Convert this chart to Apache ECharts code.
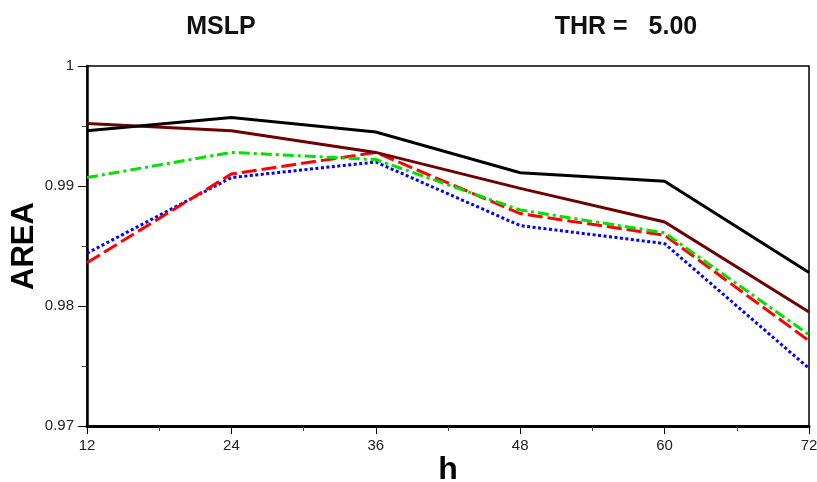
<!DOCTYPE html>
<html>
<head>
<meta charset="utf-8">
<script src="https://cdn.jsdelivr.net/npm/echarts@6/dist/echarts.min.js"></script>
<style>
html,body{margin:0;padding:0;background:#fff;}
#chart{width:817px;height:482px;}
</style>
</head>
<body>
<div id="chart"></div>
<script>
const hours = [12, 24, 36, 48, 60, 72];
const blackSeries = [0.9946, 0.9957, 0.9945, 0.9911, 0.9904, 0.9828];
const brownSeries = [0.9952, 0.9946, 0.9928, 0.9898, 0.9870, 0.9795];
const greenSeries = [0.9907, 0.9928, 0.9922, 0.9880, 0.9861, 0.9776];
const redSeries   = [0.9836, 0.9910, 0.9928, 0.9877, 0.9859, 0.9771];
const blueSeries  = [0.9844, 0.9907, 0.9920, 0.9867, 0.9852, 0.9748];
const yTicks = [0.97, 0.98, 0.99, 1];
const titleLeft = 'MSLP';
const titleRight = 'THR =   5.00';

const pairs = arr => hours.map((h, i) => [h, arr[i]]);
const chart = echarts.init(document.getElementById('chart'));
const font = 'Liberation Sans, Helvetica, Arial, sans-serif';
function mk(name, data, color, type, width) {
  return {
    name, type: 'line', data: pairs(data), symbol: 'none', animation: false,
    lineStyle: { color, width, type, cap: 'butt', join: 'miter' }
  };
}
chart.setOption({
  backgroundColor: '#fff',
  animation: false,
  title: [
    { text: titleLeft, left: 216, top: 10, textAlign: 'center',
      textStyle: { fontFamily: font, fontWeight: 'bold', fontSize: 25, color: '#111' } },
    { text: titleRight, left: 621, top: 10, textAlign: 'center',
      textStyle: { fontFamily: font, fontWeight: 'bold', fontSize: 25, color: '#111' } }
  ],
  grid: { left: 87, right: 8, top: 66, bottom: 56, outerBoundsMode: 'none', containLabel: false,
    show: true, borderColor: '#000', borderWidth: 1.5, backgroundColor: 'transparent' },
  xAxis: {
    type: 'value', min: 12, max: 72, interval: 12,
    name: 'h', nameLocation: 'middle', nameGap: 28, nameMoveOverlap: false,
    nameTextStyle: { fontFamily: font, fontWeight: 'bold', fontSize: 32, color: '#000' },
    axisLine: { show: true, onZero: false, lineStyle: { color: '#000', width: 3 } },
    axisTick: { show: true, inside: false, length: 8, lineStyle: { color: '#000', width: 1 } },
    minorTick: { show: true, splitNumber: 2, length: 5, lineStyle: { color: '#444', width: 1 } },
    axisLabel: { fontFamily: font, fontSize: 15, color: '#222', margin: 12 },
    splitLine: { show: false }
  },
  yAxis: {
    type: 'value', min: 0.97, max: 1, interval: 0.01,
    name: 'AREA', nameLocation: 'middle', nameGap: 47, nameMoveOverlap: false,
    nameTextStyle: { fontFamily: font, fontWeight: 'bold', fontSize: 31, color: '#000' },
    axisLine: { show: true, onZero: false, lineStyle: { color: '#000', width: 2.5 } },
    axisTick: { show: true, inside: false, length: 9, lineStyle: { color: '#000', width: 1 } },
    minorTick: { show: true, splitNumber: 2, length: 5, lineStyle: { color: '#444', width: 1 } },
    axisLabel: { fontFamily: font, fontSize: 15, color: '#222', margin: 13,
      formatter: v => { const r = Math.round(v * 100) / 100; return yTicks.indexOf(r) >= 0 ? String(r) : ''; } },
    splitLine: { show: false }
  },
  series: [
    mk('blue', blueSeries, '#0000ff', [3, 2.5], 3),
    mk('red', redSeries, '#ff0000', [15, 5], 3),
    mk('green', greenSeries, '#00e000', [11, 4, 3, 4], 3),
    mk('brown', brownSeries, '#6e0000', 'solid', 3),
    mk('black', blackSeries, '#000000', 'solid', 3)
  ]
});
</script>
</body>
</html>
